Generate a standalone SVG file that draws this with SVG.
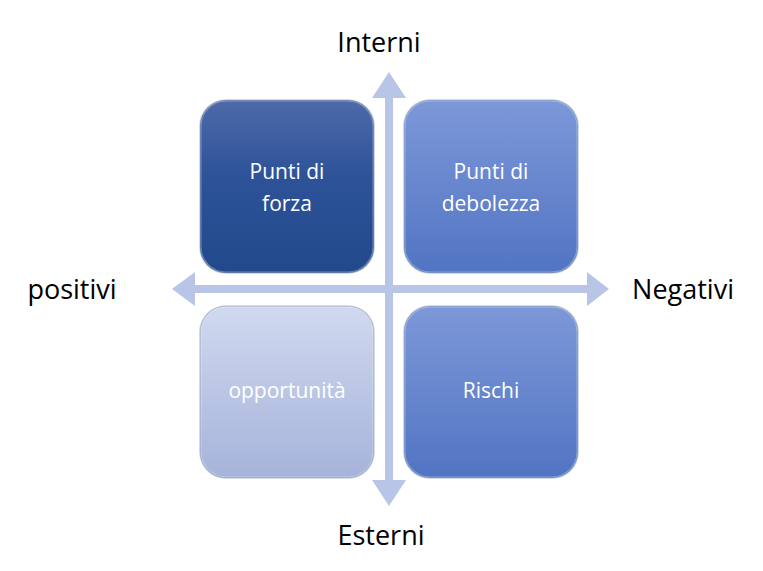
<svg xmlns="http://www.w3.org/2000/svg" width="763" height="571" viewBox="0 0 763 571">
<defs>
<linearGradient id="g1" x1="0" y1="0" x2="0" y2="1"><stop offset="0" stop-color="#4d6aa9"/><stop offset="0.45" stop-color="#2d5298"/><stop offset="1" stop-color="#22498c"/></linearGradient>
<linearGradient id="g2" x1="0" y1="0" x2="0" y2="1"><stop offset="0" stop-color="#7d98d8"/><stop offset="1" stop-color="#5174c3"/></linearGradient>
<linearGradient id="g3" x1="0" y1="0" x2="0" y2="1"><stop offset="0" stop-color="#d0d9f0"/><stop offset="1" stop-color="#a6b3da"/></linearGradient>
<style>
.box{stroke:#ffffff;stroke-opacity:0.35;stroke-width:3}
.edge{fill:none;stroke:#1c3a70;stroke-opacity:0.25;stroke-width:1.5}
.t{font-family:"Open Sans","Liberation Sans",sans-serif;font-size:21px;fill:#ffffff;text-anchor:middle}
.ax{font-family:"Open Sans","Liberation Sans",sans-serif;font-size:27px;fill:#000000;text-anchor:middle}
.arr{fill:#b9c5e7}
</style>
</defs>
<g id="connectors">
<polygon class="arr" points="389,72 406,98 393,98 393,285 587,285 587,272 609,289 587,306 587,293 393,293 393,480 406,480 389,506 372,480 385,480 385,293 195,293 195,306 172,289 195,272 195,285 385,285 385,98 372,98"/>
</g>
<g id="strengths"><rect x="200" y="100" width="174" height="173" rx="26" fill="url(#g1)" class="box"/><rect x="200" y="100" width="174" height="173" rx="26" class="edge"/><text class="t" x="287" y="179">Punti di</text><text class="t" x="287" y="211">forza</text></g>
<g id="weaknesses"><rect x="404" y="100" width="174" height="173" rx="26" fill="url(#g2)" class="box"/><rect x="404" y="100" width="174" height="173" rx="26" class="edge"/><text class="t" x="491" y="179">Punti di</text><text class="t" x="491" y="211">debolezza</text></g>
<g id="opportunities"><rect x="200" y="306" width="174" height="172" rx="26" fill="url(#g3)" class="box"/><rect x="200" y="306" width="174" height="172" rx="26" class="edge"/><text class="t" x="287" y="398">opportunità</text></g>
<g id="threats"><rect x="404" y="306" width="174" height="172" rx="26" fill="url(#g2)" class="box"/><rect x="404" y="306" width="174" height="172" rx="26" class="edge"/><text class="t" x="491" y="398">Rischi</text></g>
<g id="labels">
<text class="ax" x="379" y="52">Interni</text>
<text class="ax" x="381" y="545">Esterni</text>
<text class="ax" x="72" y="299">positivi</text>
<text class="ax" x="683" y="299">Negativi</text>
</g>
</svg>
